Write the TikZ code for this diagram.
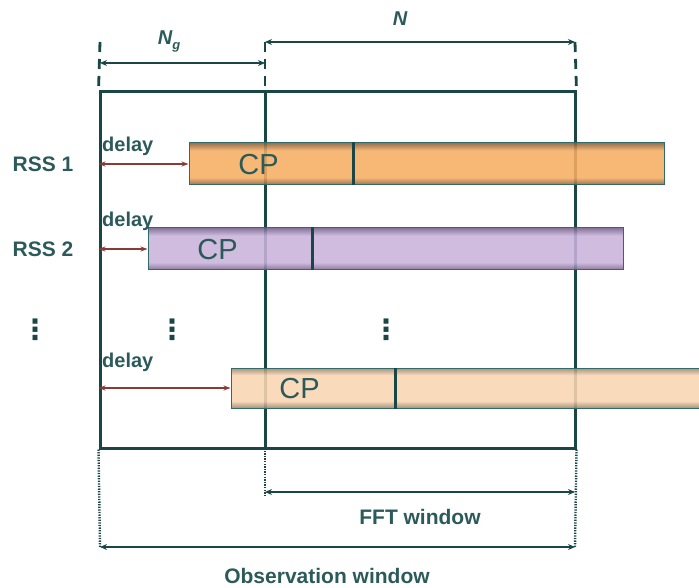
\documentclass[tikz,border=0pt]{standalone}
\usepackage{fontspec}
\setmainfont{Liberation Sans}
\newfontfamily\dotsfont{DejaVu Sans}
\usetikzlibrary{arrows.meta,calc}

\definecolor{ink}{HTML}{1A4646}
\definecolor{txt}{HTML}{2C5A5A}
\definecolor{delayred}{HTML}{8A3B36}
\definecolor{barline}{HTML}{2F6B68}
\definecolor{omid}{HTML}{F6AE63}
\definecolor{oedge}{HTML}{8A5E3A}
\definecolor{pmid}{HTML}{C8B3DA}
\definecolor{pedge}{HTML}{76628E}
\definecolor{bmid}{HTML}{F8D6B3}
\definecolor{bedge}{HTML}{9E8268}

% bar shadings: dark rims at top and bottom, flat colour in the middle
\pgfdeclareverticalshading{orangebar}{100bp}{color(0bp)=(oedge); color(25bp)=(oedge); color(34bp)=(omid); color(66bp)=(omid); color(75bp)=(oedge); color(100bp)=(oedge)}
\pgfdeclareverticalshading{purplebar}{100bp}{color(0bp)=(pedge); color(25bp)=(pedge); color(34bp)=(pmid); color(66bp)=(pmid); color(75bp)=(pedge); color(100bp)=(pedge)}
\pgfdeclareverticalshading{peachbar}{100bp}{color(0bp)=(bedge); color(25bp)=(bedge); color(34bp)=(bmid); color(66bp)=(bmid); color(75bp)=(bedge); color(100bp)=(bedge)}

\tikzset{
  frame/.style={draw=ink, line width=3pt, minimum width=475pt, minimum height=356pt, inner sep=0pt},
  gridline/.style={draw=ink, line width=3pt},
  dashline/.style={draw=ink, line width=2.8pt, dash pattern=on 10pt off 7pt},
  dotline/.style={draw=ink, line width=2.4pt, dash pattern=on 1.3pt off 1.3pt},
  dimarrow/.style={draw=ink, line width=2pt, {Stealth[length=7pt,width=6pt]}-{Stealth[length=7pt,width=6pt]}},
  delayarrow/.style={draw=delayred, line width=1.4pt, {Stealth[length=7pt,width=5pt]}-{Stealth[length=7pt,width=5pt]}},
  bar/.style={draw=barline, line width=1pt, minimum width=475pt, inner sep=0pt, fill opacity=0.88, draw opacity=1},
  sep/.style={draw=ink, line width=2.6pt},
  cp/.style={text=txt, font=\fontsize{29}{29}\selectfont, anchor=center},
  lbl/.style={text=txt, font=\fontsize{21}{21}\selectfont\bfseries},
  delaylbl/.style={text=txt, font=\fontsize{20}{20}\selectfont\bfseries, anchor=base west, inner sep=0pt},
  vdot/.style={text=ink, font=\fontsize{28}{28}\selectfont\dotsfont\bfseries},
}

\begin{document}
\begin{tikzpicture}[x=1pt, y=-1pt]
\useasboundingbox (0,0) rectangle (699,588);

% observation window frame and guard/FFT split
\node[frame] (win) at (337.5,270) {};
\coordinate (gtop) at (265,92);
\coordinate (gbot) at (265,448);
\draw[gridline] (gtop) -- (gbot);

% dimension guides above the frame
\coordinate (lt) at (100,42);
\coordinate (mt) at (265,42);
\coordinate (rt) at (575,42);
\draw[dashline] (lt) -- (win.north west);
\draw[dashline] (mt) -- (gtop);
\draw[dashline] (rt) -- (win.north east);
\coordinate (nga) at (100,63);
\coordinate (ngb) at (265,63);
\draw[dimarrow] (nga) -- (ngb);
\draw[dimarrow] (mt) -- (rt);
\node[lbl, font=\fontsize{20}{20}\selectfont\bfseries\itshape] (nglabel) at (169,41) {N\raisebox{-5pt}{\fontsize{13}{13}\selectfont g}};
\node[lbl, font=\fontsize{20}{20}\selectfont\bfseries\itshape] (nlabel) at (400,19) {N};

% dimension guides below the frame
\coordinate (lb) at (100,547);
\coordinate (mb) at (265,495);
\coordinate (rb) at (575,547);
\draw[dotline] (win.south west) -- (lb);
\draw[dotline] (gbot) -- (mb);
\draw[dotline] (win.south east) -- (rb);
\coordinate (ffta) at (265,492);
\coordinate (fftb) at (575,492);
\draw[dimarrow] (ffta) -- (fftb);
\draw[dimarrow] (lb) -- (rb);
\node[lbl] (fftlabel) at (420,517) {FFT window};
\node[lbl, inner sep=0pt] (obslabel) at (327,576) {Observation window};

% received symbol bars
\node[bar, shading=orangebar, minimum height=42pt] (b1) at (426.5,164) {};
\node[bar, shading=purplebar, minimum height=42pt] (b2) at (385.5,249) {};
\node[bar, shading=peachbar, minimum height=40pt] (b3) at (468.5,388) {};

\draw[sep] ($(b1.north west)+(165,0)$) -- ($(b1.south west)+(165,0)$);
\draw[sep] ($(b2.north west)+(165,0)$) -- ($(b2.south west)+(165,0)$);
\draw[sep] ($(b3.north west)+(165,0)$) -- ($(b3.south west)+(165,0)$);

\node[cp] (cp1) at ($(b1.west)+(70,1)$) {CP};
\node[cp] (cp2) at ($(b2.west)+(70,1)$) {CP};
\node[cp] (cp3) at ($(b3.west)+(69,1)$) {CP};

% delays from the window start
\draw[delayarrow] (b1.west -| win.west) -- (b1.west);
\draw[delayarrow] (b2.west -| win.west) -- (b2.west);
\draw[delayarrow] (b3.west -| win.west) -- (b3.west);
\node[delaylbl] (d1) at (102,152) {delay};
\node[delaylbl] (d2) at (102,227) {delay};
\node[delaylbl] (d3) at (102,367) {delay};

% row labels
\node[lbl] (rss1) at (43,164) {RSS 1};
\node[lbl] (rss2) at (43,249) {RSS 2};
\node[vdot] (v1) at (35,330) {⋮};
\node[vdot] (v2) at (172,330) {⋮};
\node[vdot] (v3) at (386,330) {⋮};
\end{tikzpicture}
\end{document}
